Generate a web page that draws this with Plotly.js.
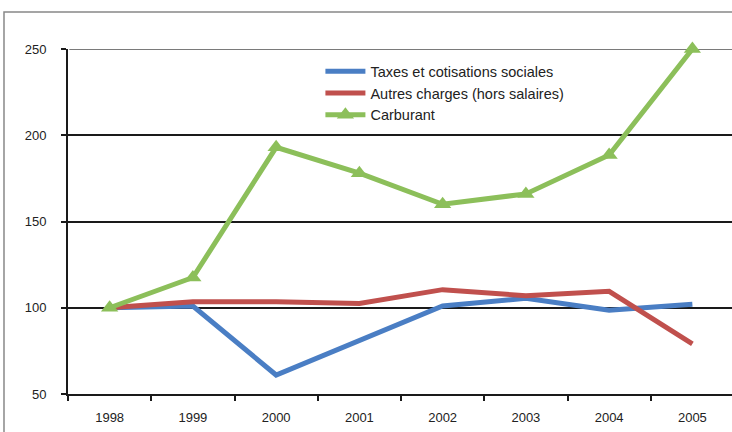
<!DOCTYPE html>
<html><head><meta charset="utf-8">
<script src="https://cdn.plot.ly/plotly-3.0.1.min.js"></script>
<style>html,body{margin:0;padding:0;overflow:hidden;background:#fff}#c{width:734px;height:432px}</style>
</head><body><div id="c"></div>
<script>
const years = ['1998','1999','2000','2001','2002','2003','2004','2005'];
const taxes = [100, 101, 61, 81, 101, 105.5, 98.5, 102];
const autres = [100, 103.5, 103.5, 102.5, 110.5, 107, 109.5, 79];
const carburant = [100, 117.5, 193, 178, 160, 166, 188.5, 250];
const names = ['Taxes et cotisations sociales','Autres charges (hors salaires)','Carburant'];
const yTicks = [50, 100, 150, 200, 250];

const traces = [
  {x: years, y: taxes, name: names[0], type:'scatter', mode:'lines',
   line:{color:'#4a7ec4', width:5}},
  {x: years, y: autres, name: names[1], type:'scatter', mode:'lines',
   line:{color:'#c0504d', width:5}},
  {x: years, y: carburant, name: names[2], type:'scatter', mode:'lines+markers', cliponaxis:false,
   line:{color:'#8cbf5a', width:5}, marker:{symbol:'triangle-up', size:15, color:'#8cbf5a'}}
];
const layout = {
  width:734, height:432,
  margin:{l:68, r:0, t:49, b:38},
  paper_bgcolor:'#fff', plot_bgcolor:'#fff',
  font:{family:'Liberation Sans, Arial, sans-serif', size:13, color:'#222'},
  showlegend:true,
  legend:{x:0.379, y:0.982, xanchor:'left', yanchor:'top', bgcolor:'rgba(0,0,0,0)',
          font:{size:14.5, color:'#222'}, tracegroupgap:0, itemwidth:40},
  xaxis:{type:'category', range:[-0.5,7.5], showgrid:false, zeroline:false,
         showline:true, linecolor:'#1a1a1a', linewidth:2,
         ticks:'outside', ticklen:5, tickwidth:2, tickcolor:'#1a1a1a', tickson:'boundaries',
         ticklabelstandoff:10, fixedrange:true},
  yaxis:{range:[50,250], tickvals:yTicks, showgrid:true, gridcolor:'#1a1a1a', gridwidth:2,
         zeroline:false, showline:true, linecolor:'#1a1a1a', linewidth:2,
         ticks:'outside', ticklen:5, tickwidth:2, tickcolor:'#1a1a1a',
         ticklabelstandoff:12, fixedrange:true},
  shapes:[
    {type:'rect', xref:'paper', yref:'paper', x0:-0.0961, x1:1.2, y0:-0.3, y1:1.107,
     line:{color:'#888', width:1.5}, fillcolor:'rgba(0,0,0,0)', layer:'below'},
    {type:'line', xref:'paper', yref:'y', x0:0.002, x1:1, y0:250, y1:250,
     line:{color:'#7a7a7a', width:2}, layer:'below'}
  ]
};
Plotly.newPlot('c', traces, layout, {staticPlot:true, displayModeBar:false});
</script></body></html>
